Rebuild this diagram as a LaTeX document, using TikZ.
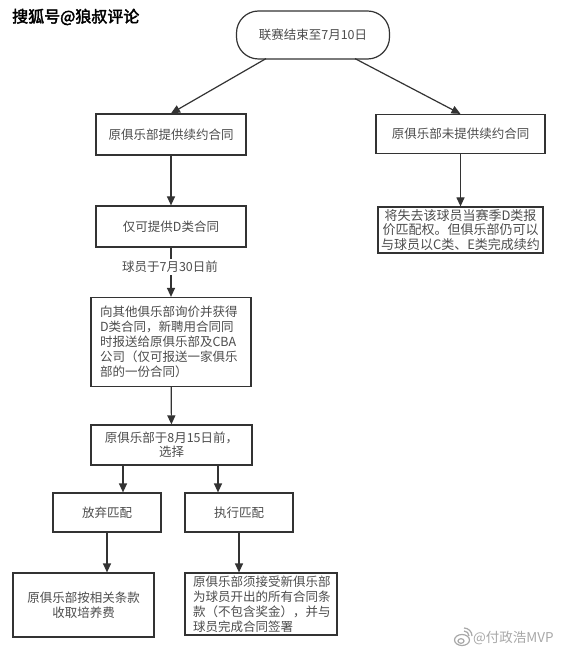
\documentclass[tikz,border=0pt]{standalone}
\usepackage{fontspec}
\setmainfont{Noto Sans CJK SC}[AutoFakeBold=2.5]
\usetikzlibrary{arrows.meta,calc}
\definecolor{ln}{HTML}{333333}
\definecolor{tx}{HTML}{4D4D4D}
\definecolor{wmgray}{HTML}{A8A8A8}
\begin{document}
\begin{tikzpicture}[x=1pt,y=-1pt,
  box/.style={draw=ln, line width=1.2pt, fill=white, text=tx, font=\fontsize{12.5}{15}\selectfont, inner sep=0pt, align=center},
  arr/.style={draw=ln, line width=1.2pt, -{Triangle[length=9pt,width=8pt]}},
  lbl/.style={fill=white, text=tx, font=\fontsize{12.5}{15}\selectfont, inner sep=2pt},
]
\useasboundingbox (0,0) rectangle (564,652);
\fill[white] (0,0) rectangle (564,652);

% nodes
\node[box, rounded corners=22pt, minimum width=153pt, minimum height=48pt] (start) at (313,35) {联赛结束至7月10日};
\node[box, minimum width=150pt, minimum height=41pt] (b1) at (171,134.5) {原俱乐部提供续约合同};
\node[box, minimum width=150pt, minimum height=41pt] (b2) at (171,226.5) {仅可提供D类合同};
\node[box, minimum width=160pt, minimum height=89pt, text width=142pt, align=left] (b3) at (171,342)
  {向其他俱乐部询价并获得\\D类合同，新聘用合同同\\时报送给原俱乐部及CBA\\公司（仅可报送一家俱乐\\部的一份合同）};
\node[box, minimum width=161pt, minimum height=40pt, font=\fontsize{12.5}{14}\selectfont] (b4) at (171.5,445) {原俱乐部于8月15日前，\\选择};
\node[box, minimum width=108pt, minimum height=39pt] (b5) at (107,512.5) {放弃匹配};
\node[box, minimum width=108pt, minimum height=39pt] (b6) at (239,512.5) {执行匹配};
\node[box, minimum width=141pt, minimum height=64pt] (b7) at (83.5,605) {原俱乐部按相关条款\\收取培养费};
\node[box, minimum width=152pt, minimum height=62pt, text width=136pt, align=left] (b8) at (261,604)
  {原俱乐部须接受新俱乐部\\为球员开出的所有合同条\\款（不包含奖金），并与\\球员完成合同签署};
\node[box, minimum width=169pt, minimum height=39pt] (r1) at (460.5,134) {原俱乐部未提供续约合同};
\node[box, minimum width=165pt, minimum height=46pt, font=\fontsize{13}{14.5}\selectfont] (r2) at (460.5,230)
  {将失去该球员当赛季D类报\\价匹配权。但俱乐部仍可以\\与球员以C类、E类完成续约};

% connectors
\draw[arr] ($(start.south)+(-47,-1)$) -- (b1.north);
\draw[arr] ($(start.south)+(42,-1)$) -- (r1.north);
\draw[arr] (b1) -- (b2);
\draw[arr] (b2) -- (b3);
\node[lbl] (lab) at (170,267) {球员于7月30日前};
\draw[arr] (b3) -- (b4);
\draw[arr] ($(b4.south)+(-48.5,0)$) -- ($(b5.north)+(16,0)$);
\draw[arr] ($(b4.south)+(46.5,0)$) -- ($(b6.north)+(-21,0)$);
\draw[arr] (b5.south) -- (b5.south |- b7.north);
\draw[arr] (b6.south) -- (b6.south |- b8.north);
\draw[arr] (r1) -- (r2);

% watermarks
\node[font=\fontsize{16}{16}\selectfont\bfseries, text=black, anchor=west, inner sep=0pt] (wm1) at (12,17) {搜狐号@狼叔评论};
\node[font=\fontsize{13.5}{13.5}\selectfont, text=wmgray, anchor=west, inner sep=0pt] (wm2) at (473,638) {@付政浩MVP};
\begin{scope}[wmgray, line width=1.2pt]
  \draw (462,640) ellipse (7.5pt and 5.5pt);
  \draw (461,641) ellipse (3pt and 2.3pt);
  \draw (464,631) arc (90:0:5pt);
  \draw (464,628) arc (90:0:8pt);
\end{scope}
\end{tikzpicture}
\end{document}
